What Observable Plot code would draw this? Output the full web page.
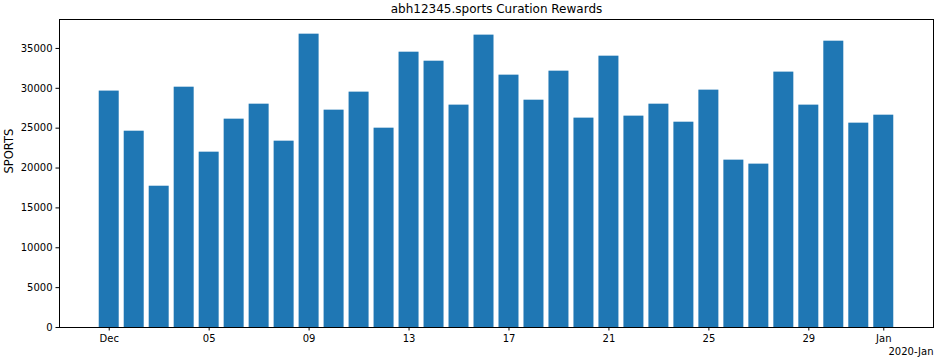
<!DOCTYPE html>
<html>
<head>
<meta charset="utf-8">
<script src="https://cdn.jsdelivr.net/npm/d3@7"></script>
<script src="https://cdn.jsdelivr.net/npm/@observablehq/plot@0.6"></script>
<style>
  html, body { margin: 0; padding: 0; background: #fff; }
  #chart svg { display: block; }
</style>
</head>
<body>
<div id="chart"></div>
<script>
const dates = [
  "2019-12-01","2019-12-02","2019-12-03","2019-12-04","2019-12-05","2019-12-06","2019-12-07","2019-12-08",
  "2019-12-09","2019-12-10","2019-12-11","2019-12-12","2019-12-13","2019-12-14","2019-12-15","2019-12-16",
  "2019-12-17","2019-12-18","2019-12-19","2019-12-20","2019-12-21","2019-12-22","2019-12-23","2019-12-24",
  "2019-12-25","2019-12-26","2019-12-27","2019-12-28","2019-12-29","2019-12-30","2019-12-31","2020-01-01"
];
const values = [
  29650, 24620, 17720, 30140, 21990, 26130, 28010, 23370,
  36790, 27260, 29520, 25000, 34530, 33400, 27890, 36670,
  31650, 28510, 32150, 26260, 34030, 26510, 28010, 25750,
  29770, 20990, 20490, 32030, 27890, 35910, 25630, 26630
];
const xTickDates = ["2019-12-01","2019-12-05","2019-12-09","2019-12-13","2019-12-17","2019-12-21","2019-12-25","2019-12-29","2020-01-01"];
const yTicks = [0, 5000, 10000, 15000, 20000, 25000, 30000, 35000];
const title = "abh12345.sports Curation Rewards";
const yLabel = "SPORTS";
const offsetLabel = "2020-Jan";

const DAY = 24 * 3600 * 1000;
const data = dates.map((d, i) => ({date: new Date(d + "T00:00:00Z"), value: values[i]}));
const [d0, d1] = d3.extent(data, d => d.date);
const barHalf = 0.4 * DAY;
const span = (+d1 + barHalf) - (+d0 - barHalf);
const pad = span * 0.05;
const xDomain = [new Date(+d0 - barHalf - pad), new Date(+d1 + barHalf + pad)];
const yMax = d3.max(values) * 1.05;

const fmtTick = d => (d.getUTCDate() === 1 ? d3.utcFormat("%b")(d) : d3.utcFormat("%d")(d));

const chart = Plot.plot({
  width: 936,
  height: 360,
  marginTop: 19,
  marginRight: 3,
  marginBottom: 33,
  marginLeft: 59,
  style: {fontFamily: "DejaVu Sans", fontSize: "10px", color: "black", background: "white"},
  x: {type: "utc", domain: xDomain},
  y: {domain: [0, yMax]},
  marks: [
    Plot.rectY(data, {
      x1: d => new Date(+d.date - barHalf),
      x2: d => new Date(+d.date + barHalf),
      y1: 0,
      y2: "value",
      fill: "#1f77b4",
      inset: 0
    }),
    Plot.axisX({ticks: xTickDates.map(d => new Date(d + "T00:00:00Z")), tickFormat: fmtTick, tickSize: 3.5, tickPadding: 3.5, label: null, stroke: "black", strokeOpacity: 1}),
    Plot.axisY({ticks: yTicks, tickFormat: d => String(d), tickSize: 3.5, tickPadding: 3.5, label: null, stroke: "black", strokeOpacity: 1}),
    Plot.frame({stroke: "black", strokeWidth: 1}),
    Plot.text([title], {frameAnchor: "top", lineAnchor: "middle", dy: -10, fontSize: 12, text: d => d}),
    Plot.text([yLabel], {frameAnchor: "left", lineAnchor: "middle", dx: -50, rotate: -90, fontSize: 11.5, text: d => d}),
    Plot.text([offsetLabel], {frameAnchor: "bottom-right", textAnchor: "end", lineAnchor: "middle", dy: 24, fontSize: 10, text: d => d})
  ]
});
document.getElementById("chart").appendChild(chart);
</script>
</body>
</html>
